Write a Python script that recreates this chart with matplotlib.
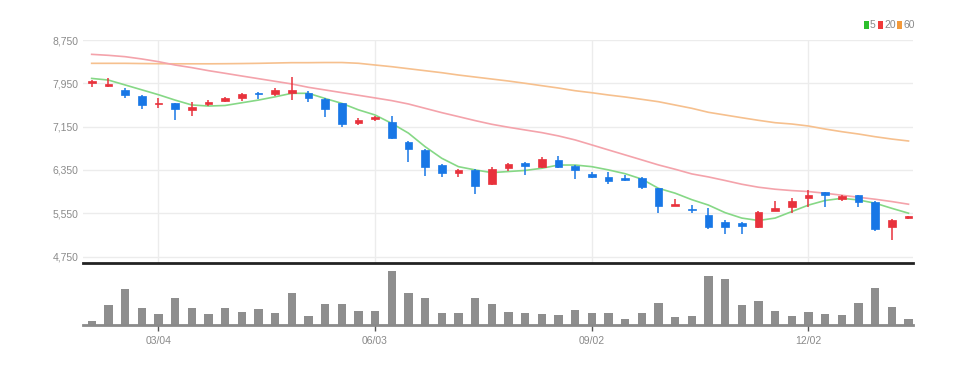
import matplotlib
matplotlib.use("Agg")
import matplotlib.pyplot as plt
import numpy as np

# ---- data (weekly candles) ----
opens  = [7960, 7900, 7830, 7720, 7560, 7580, 7450, 7560, 7620, 7670,
          7780, 7750, 7770, 7770, 7660, 7580, 7220, 7290, 7240, 6870,
          6720, 6440, 6300, 6350, 6090, 6380, 6470, 6410, 6540, 6420,
          6280, 6220, 6200, 6200, 6010, 5690, 5630, 5520, 5380, 5370,
          5300, 5590, 5660, 5830, 5940, 5810, 5880, 5750, 5290, 5460]
highs  = [8010, 8040, 7860, 7740, 7670, 7580, 7610, 7640, 7700, 7770,
          7790, 7860, 8070, 7800, 7670, 7590, 7300, 7350, 7340, 6890,
          6730, 6460, 6360, 6360, 6410, 6470, 6500, 6580, 6600, 6440,
          6320, 6320, 6260, 6210, 6020, 5810, 5700, 5640, 5430, 5380,
          5590, 5770, 5830, 5970, 5950, 5880, 5890, 5780, 5450, 5500]
lows   = [7880, 7880, 7670, 7480, 7490, 7270, 7350, 7530, 7600, 7630,
          7660, 7720, 7640, 7610, 7320, 7140, 7180, 7260, 6920, 6490,
          6230, 6210, 6220, 5910, 6070, 6330, 6250, 6380, 6380, 6190,
          6200, 6090, 6150, 5990, 5550, 5690, 5550, 5260, 5170, 5170,
          5270, 5590, 5550, 5670, 5670, 5780, 5670, 5230, 5050, 5440]
closes = [8000, 7930, 7740, 7550, 7590, 7470, 7520, 7610, 7670, 7750,
          7750, 7830, 7830, 7670, 7470, 7200, 7270, 7320, 6940, 6730,
          6400, 6300, 6340, 6060, 6360, 6450, 6430, 6550, 6410, 6350,
          6220, 6150, 6170, 6030, 5690, 5720, 5600, 5300, 5290, 5320,
          5580, 5640, 5780, 5890, 5880, 5860, 5750, 5260, 5420, 5490]
volumes = [40, 200, 357, 173, 113, 267, 173, 113, 167, 133,
           157, 117, 323, 90, 207, 207, 140, 140, 540, 317,
           267, 123, 123, 267, 207, 127, 117, 107, 100, 150,
           117, 117, 57, 117, 217, 83, 90, 490, 457, 200,
           240, 140, 90, 133, 107, 100, 223, 373, 183, 57]
ma5  = [8040, 8010, 7920, 7830, 7740, 7640, 7550, 7530, 7540, 7590,
        7640, 7700, 7765, 7765, 7670, 7580, 7460, 7365, 7210, 7030,
        6780, 6565, 6410, 6350, 6300, 6320, 6340, 6380, 6440, 6440,
        6410, 6350, 6280, 6180, 6010, 5920, 5800, 5700, 5560, 5460,
        5415, 5460, 5580, 5700, 5785, 5825, 5795, 5735, 5640, 5550]
ma20 = [8485, 8467, 8442, 8400, 8350, 8288, 8240, 8184, 8135, 8085,
        8036, 7987, 7938, 7876, 7827, 7778, 7729, 7680, 7630, 7568,
        7488, 7408, 7335, 7261, 7193, 7138, 7088, 7039, 6978, 6904,
        6812, 6719, 6627, 6535, 6442, 6362, 6276, 6220, 6154, 6085,
        6030, 5993, 5968, 5950, 5919, 5882, 5845, 5808, 5765, 5716]
ma60 = [8319, 8319, 8319, 8315, 8312, 8310, 8310, 8310, 8312, 8315,
        8319, 8325, 8331, 8331, 8334, 8334, 8320, 8288, 8257, 8220,
        8183, 8146, 8103, 8066, 8029, 7992, 7950, 7906, 7863, 7813,
        7776, 7734, 7697, 7654, 7610, 7549, 7488, 7414, 7364, 7314,
        7266, 7222, 7198, 7161, 7105, 7056, 7013, 6963, 6920, 6884]
tick_idx = [4, 17, 30, 43]
tick_labels = ["03/04", "06/03", "09/02", "12/02"]
ytick_vals = [4750, 5550, 6350, 7150, 7950, 8750]
legend_labels = ["5", "20", "60"]

UP = "#e8323c"
DOWN = "#1877e6"
C5, C20, C60 = "#86d886", "#f4a3ab", "#f6c08e"
LG5, LG20, LG60 = "#2cbf2c", "#f03a3a", "#f39a3a"
FONT = ["Liberation Sans", "DejaVu Sans"]

W, H = 975, 366
fig = plt.figure(figsize=(W / 100, H / 100), dpi=100)
L, R = 83, 913
ax = fig.add_axes([L / W, (H - 263) / H, (R - L) / W, (263 - 40) / H])
axv = fig.add_axes([L / W, (H - 325) / H, (R - L) / W, (325 - 265) / H])

x = np.arange(len(closes))
xlim = (-0.52, 49.27)

# grid
for v in ytick_vals:
    ax.axhline(v, color="#ececec", lw=1, zorder=0)
for t in tick_idx:
    ax.axvline(t, color="#ececec", lw=1, zorder=0)

# MA lines
ax.plot(x, ma60, color=C60, lw=1.2, zorder=1)
ax.plot(x, ma20, color=C20, lw=1.2, zorder=1)
ax.plot(x, ma5, color=C5, lw=1.2, zorder=1)

# candles
bw = 0.46
for i in x:
    o, h, l, c = opens[i], highs[i], lows[i], closes[i]
    col = UP if c >= o else DOWN
    ax.vlines(i, l, h, color=col, lw=1.1, zorder=2)
    lo = min(o, c)
    hgt = max(abs(c - o), 25)
    ax.bar(i, hgt, bottom=lo - (hgt - abs(c - o)) / 2, width=bw,
           color=col, edgecolor=col, lw=0.5, zorder=3)

ax.set_xlim(*xlim)
ax.set_ylim(4630, 8750)
ax.set_yticks(ytick_vals)
ax.set_yticklabels([f"{v:,}" for v in ytick_vals], family=FONT,
                   fontsize=7.5, color="#8a8a8a")
ax.tick_params(axis="y", length=0, pad=3)
ax.set_xticks([])
for s in ["top", "right", "left"]:
    ax.spines[s].set_visible(False)
ax.spines["bottom"].set_color("#222222")
ax.spines["bottom"].set_linewidth(2)

# volume
axv.bar(x, volumes, width=0.5, color="#8e8e8e", zorder=2)
axv.set_xlim(*xlim)
axv.set_ylim(0, 600)
axv.set_yticks([])
axv.set_xticks(tick_idx)
axv.set_xticklabels(tick_labels, family=FONT, fontsize=7.5, color="#8a8a8a")
axv.tick_params(axis="x", length=4, width=1, color="#555555", pad=4)
for s in ["top", "right", "left"]:
    axv.spines[s].set_visible(False)
axv.spines["bottom"].set_color("#8a8a8a")
axv.spines["bottom"].set_linewidth(2)
axv.patch.set_alpha(0)
ax.patch.set_alpha(0)

# legend (top right)
ly = 1 - 25 / H
items = [(864, LG5, legend_labels[0]), (878, LG20, legend_labels[1]),
         (897, LG60, legend_labels[2])]
for px, col, lab in items:
    fig.patches.append(plt.Rectangle((px / W, ly - 4 / H), 4.5 / W, 8 / H,
                                     transform=fig.transFigure,
                                     color=col, lw=0))
    fig.text((px + 6) / W, ly, lab, family=FONT, fontsize=7.5,
             color="#8a8a8a", va="center", ha="left")

fig.savefig("out.png", dpi=100, facecolor="white")
